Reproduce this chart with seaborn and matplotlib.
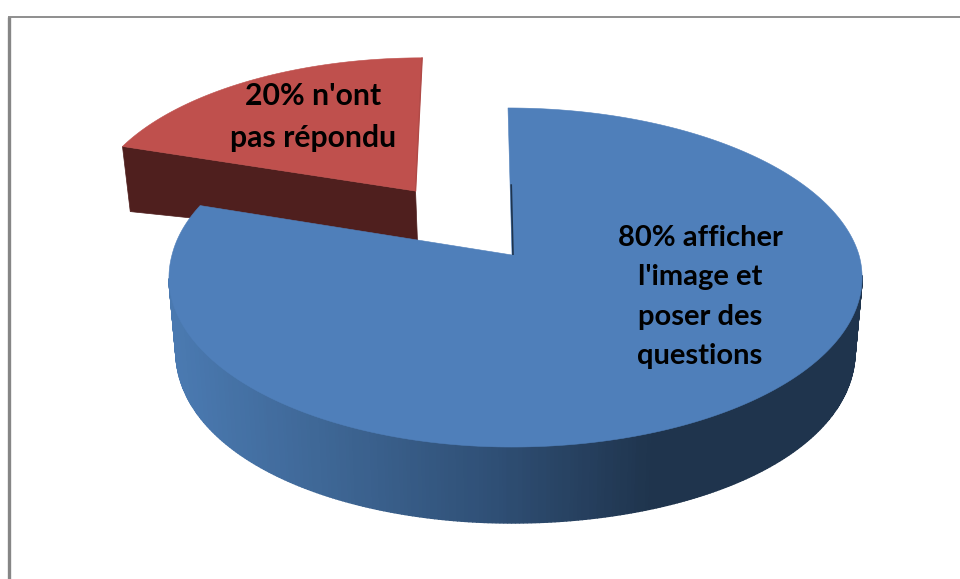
import numpy as np
import seaborn as sns
import matplotlib
matplotlib.use('Agg')
import matplotlib.pyplot as plt

# Données
parts = [80, 20]
etiquettes = ["80% afficher\nl'image et\nposer des\nquestions", "20% n'ont\npas répondu"]

sns.set_theme(style='white')
plt.rcParams['font.family'] = ['Lato', 'DejaVu Sans']

fig = plt.figure(figsize=(9.6, 5.79), dpi=100)
ax = fig.add_axes([0, 0, 1, 1])

# Le camembert donne les angles et le décalage de chaque part
wedges, _ = ax.pie(parts, explode=[0, 0.5], startangle=90, counterclock=False, radius=1)
angles = [(w.theta1, w.theta2, w.center) for w in wedges]
for w in wedges:
    w.remove()

ax.set_aspect('auto')
ax.set_xlim(0, 960)
ax.set_ylim(579, 0)
ax.axis('off')


# Perspective : plan du camembert vers pixels
def projection(x, y):
    x = np.asarray(x, dtype=float)
    y = np.asarray(y, dtype=float)
    d = 1 + 0.1327 * y
    largeur = np.where(x < 0, 340, 347)
    return 512 + largeur * x / d - 4 * np.clip(y, 0, None), (255 - 132.7 * y) / d


def projection_bas(x, y):
    px, py = projection(x, y)
    return 512 + (px - 512) * 0.98, py + 57 - 19 * y + 14 * x ** 2


def arc(t1, t2, centre, n=300):
    t = np.radians(np.linspace(t1, t2, n))
    return centre[0] + np.cos(t), centre[1] + np.sin(t)


def part_haut(t1, t2, centre):
    x, y = arc(t1, t2, centre)
    x = np.r_[centre[0], x]
    y = np.r_[centre[1], y]
    return projection(x, y)


bleu, rouge = sns.color_palette(['#4f7fba', '#bf504d'])
degrade = sns.blend_palette(['#4a79b0', '#3d6593', '#2f4f75', '#1f344d'], 100)

# Part rouge : paroi avant puis dessus
t1, t2, c = angles[1]
cx, cy = c
coin_x = cx + np.cos(np.radians(t2))
coin_y = cy + np.sin(np.radians(t2))
hx, hy = projection(np.array([cx, coin_x]), np.array([cy, coin_y]))
bx, by = projection_bas(np.array([cx, coin_x]), np.array([cy, coin_y]))
ax.fill(np.r_[hx, bx[::-1]], np.r_[hy, by[::-1]], color='#4f1f1e', lw=0.5)
px, py = part_haut(t1, t2, c)
ax.fill(px, py, color=rouge, lw=0.4)
ax.plot(px[[0, 1]], py[[0, 1]], color='#b04a47', lw=1)

# Part bleue : paroi courbe en dégradé puis dessus
t1, t2, c = angles[0]
x, y = arc(t1, t2, c, n=500)
hx, hy = projection(x, y)
bx, by = projection_bas(x, y)
for i in range(len(x) - 1):
    if y[i] > -0.13:
        continue
    k = int(np.clip((hx[i] - 175) / (650 - 175), 0, 1) * 99)
    ax.fill([hx[i], hx[i + 1], bx[i + 1], bx[i]], [hy[i], hy[i + 1], by[i + 1], by[i]],
            color=degrade[k], lw=1)
px, py = part_haut(t1, t2, c)
ax.fill(px, py, color=bleu, lw=0.4)
mx, my = projection(np.array([0, 0]), np.array([0.45, 0]))
ax.plot(mx + 1, my, color='#1f344d', lw=1.2, solid_capstyle='butt')

# Étiquettes
ax.text(700, 297, etiquettes[0], ha='center', va='center', fontsize=21, fontweight='bold',
        color='black', linespacing=1.62)
ax.text(313, 117, etiquettes[1], ha='center', va='center', fontsize=21.7, fontweight='bold',
        color='black', linespacing=1.58)

# Cadre du graphique
ax.plot([8.5, 8.5], [16.5, 579], color='#868686', lw=2.4, solid_capstyle='butt')
ax.plot([8, 960], [16.8, 16.8], color='#868686', lw=1.3, solid_capstyle='butt')

fig.savefig('out.png', dpi=100, facecolor='white')
